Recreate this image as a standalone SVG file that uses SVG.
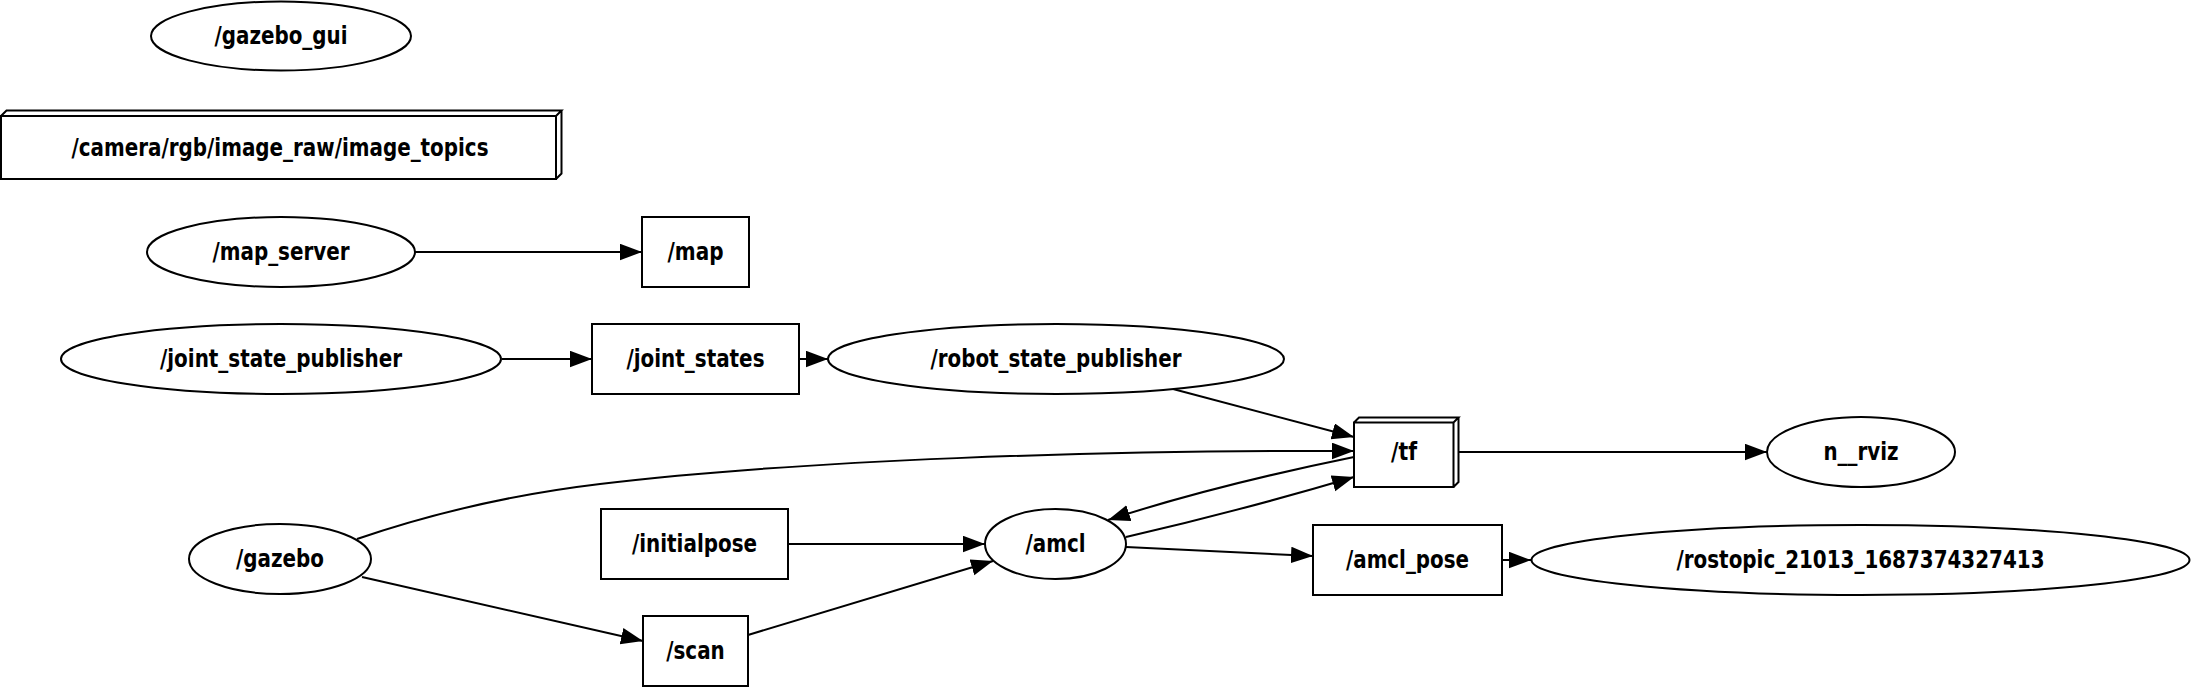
<svg xmlns="http://www.w3.org/2000/svg" width="2191" height="688" viewBox="0 0 2191 688">
<style>
.n{fill:none;stroke:#000;stroke-width:2}
.e{fill:none;stroke:#000;stroke-width:2}
text{font-family:"DejaVu Sans","Liberation Sans",sans-serif;font-weight:bold;font-size:24px;text-anchor:middle;fill:#000}
</style>
<defs>
<marker id="ah" markerUnits="userSpaceOnUse" markerWidth="24" markerHeight="18" refX="22" refY="8.25" orient="auto">
<path d="M0,0 L22,8.25 L0,16.5 z" fill="#000"/>
</marker>
</defs>
<rect width="2191" height="688" fill="#fff"/>
<g id="edges">
<path class="e" marker-end="url(#ah)" d="M415,252 L642,252"/>
<path class="e" marker-end="url(#ah)" d="M502,359 L592,359"/>
<path class="e" marker-end="url(#ah)" d="M799,359 L828,359"/>
<path class="e" marker-end="url(#ah)" d="M1173,389 L1354,437"/>
<path class="e" marker-end="url(#ah)" d="M357,539 C436,512 516,494 600,484 C800,460 1100,450 1354,451"/>
<path class="e" marker-end="url(#ah)" d="M1354,457 C1300,468 1200,490 1108,520"/>
<path class="e" marker-end="url(#ah)" d="M1126,537 C1200,520 1290,496 1354,477"/>
<path class="e" marker-end="url(#ah)" d="M788,544 L985,544"/>
<path class="e" marker-end="url(#ah)" d="M748,635 L993,561"/>
<path class="e" marker-end="url(#ah)" d="M362,577 L643,641"/>
<path class="e" marker-end="url(#ah)" d="M1126,547 L1313,556"/>
<path class="e" marker-end="url(#ah)" d="M1502,560 L1531,560"/>
<path class="e" marker-end="url(#ah)" d="M1459,452 L1767,452"/>
</g>
<g id="gazebo_gui">
<ellipse class="n" cx="281" cy="36" rx="130" ry="34.5"/>
<text x="281" y="44" textLength="133" lengthAdjust="spacingAndGlyphs">/gazebo_gui</text>
</g>
<g id="camera_topics">
<path class="n" d="M1,116 L556,116 L556,179 L1,179 Z M1,116 L6.5,110.5 L561.5,110.5 L556,116 M561.5,110.5 L561.5,173.5 L556,179"/>
<text x="280" y="156" textLength="417" lengthAdjust="spacingAndGlyphs">/camera/rgb/image_raw/image_topics</text>
</g>
<g id="map_server">
<ellipse class="n" cx="281" cy="252" rx="134" ry="35"/>
<text x="281" y="260" textLength="137" lengthAdjust="spacingAndGlyphs">/map_server</text>
</g>
<g id="map">
<rect class="n" x="642" y="217" width="107" height="70"/>
<text x="695.5" y="260" textLength="56" lengthAdjust="spacingAndGlyphs">/map</text>
</g>
<g id="joint_state_publisher">
<ellipse class="n" cx="281" cy="359" rx="220" ry="35"/>
<text x="281" y="367" textLength="242" lengthAdjust="spacingAndGlyphs">/joint_state_publisher</text>
</g>
<g id="joint_states">
<rect class="n" x="592" y="324" width="207" height="70"/>
<text x="695.5" y="367" textLength="138" lengthAdjust="spacingAndGlyphs">/joint_states</text>
</g>
<g id="robot_state_publisher">
<ellipse class="n" cx="1056" cy="359" rx="228" ry="35"/>
<text x="1056" y="367" textLength="251" lengthAdjust="spacingAndGlyphs">/robot_state_publisher</text>
</g>
<g id="tf">
<path class="n" d="M1354,422.5 L1453.5,422.5 L1453.5,487 L1354,487 Z M1354,422.5 L1359,417.5 L1458.5,417.5 L1453.5,422.5 M1458.5,417.5 L1458.5,482 L1453.5,487"/>
<text x="1404" y="460" textLength="26" lengthAdjust="spacingAndGlyphs">/tf</text>
</g>
<g id="n__rviz">
<ellipse class="n" cx="1861" cy="452" rx="94" ry="35"/>
<text x="1861" y="460" textLength="75" lengthAdjust="spacingAndGlyphs">n__rviz</text>
</g>
<g id="amcl">
<ellipse class="n" cx="1055.5" cy="544" rx="70.5" ry="35"/>
<text x="1055.5" y="552" textLength="60" lengthAdjust="spacingAndGlyphs">/amcl</text>
</g>
<g id="initialpose">
<rect class="n" x="601" y="509" width="187" height="70"/>
<text x="694.5" y="552" textLength="125" lengthAdjust="spacingAndGlyphs">/initialpose</text>
</g>
<g id="gazebo">
<ellipse class="n" cx="280" cy="559" rx="91" ry="35"/>
<text x="280" y="567" textLength="88" lengthAdjust="spacingAndGlyphs">/gazebo</text>
</g>
<g id="amcl_pose">
<rect class="n" x="1313" y="525" width="189" height="70"/>
<text x="1407.5" y="568" textLength="123" lengthAdjust="spacingAndGlyphs">/amcl_pose</text>
</g>
<g id="rostopic">
<ellipse class="n" cx="1860.5" cy="560" rx="329" ry="35"/>
<text x="1860.5" y="568" textLength="368" lengthAdjust="spacingAndGlyphs">/rostopic_21013_1687374327413</text>
</g>
<g id="scan">
<rect class="n" x="643" y="616" width="105" height="70"/>
<text x="695.5" y="659" textLength="58.5" lengthAdjust="spacingAndGlyphs">/scan</text>
</g>
</svg>
